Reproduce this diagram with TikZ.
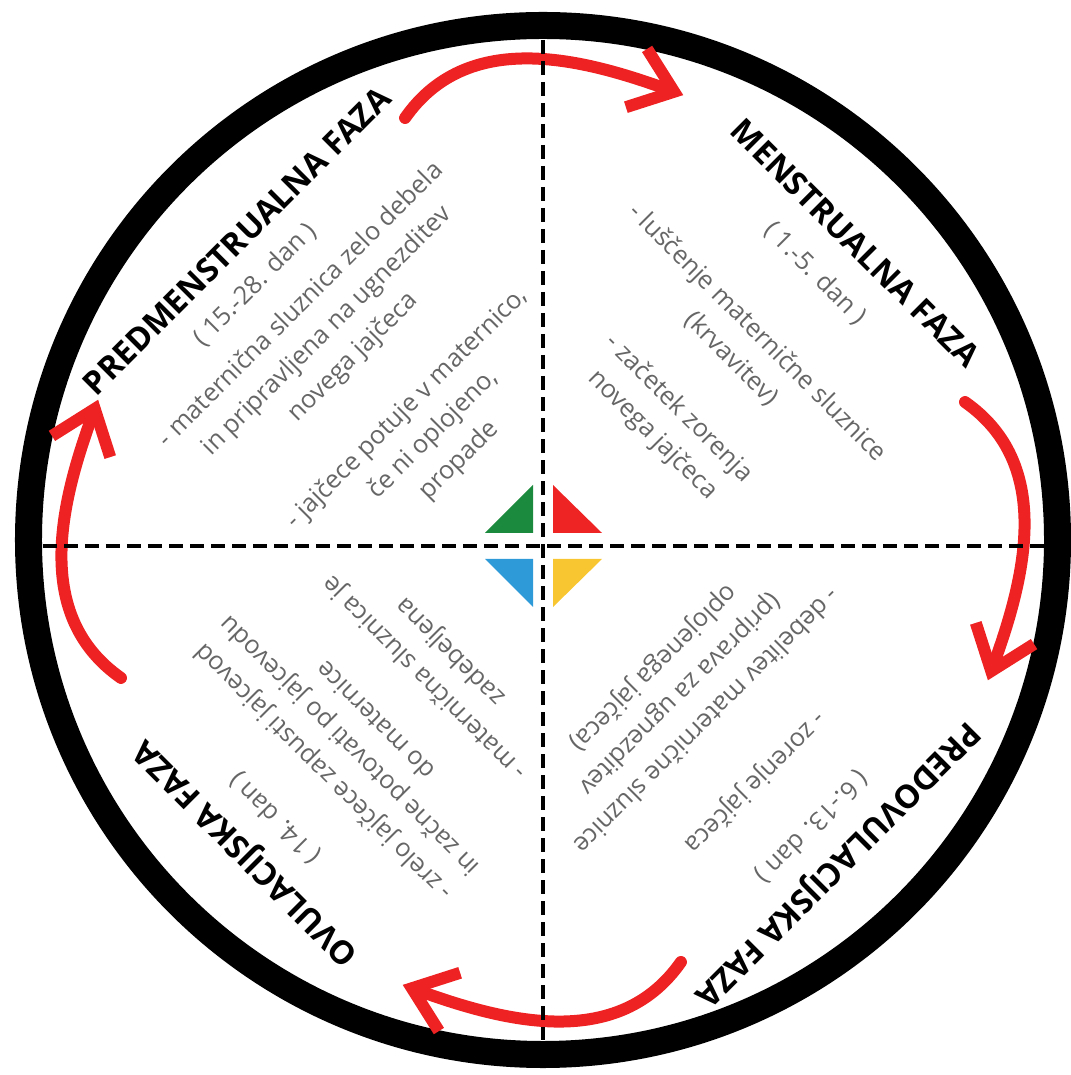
\documentclass[tikz,border=0pt]{standalone}
\usepackage{fontspec}
\setmainfont{Open Sans}
\usetikzlibrary{arrows.meta}

\definecolor{turnred}{HTML}{EE2222}
\definecolor{qgreen}{HTML}{1C8A3E}
\definecolor{qred}{HTML}{EE2424}
\definecolor{qblue}{HTML}{2E9AD8}
\definecolor{qyellow}{HTML}{F8C630}
\definecolor{notegray}{HTML}{666666}

\begin{document}
\begin{tikzpicture}

  \tikzset{phase/.style={font=\fontsize{9.2}{11}\selectfont\bfseries, inner sep=0pt},
           days/.style={font=\fontsize{7.2}{10.5}\selectfont, text=notegray, inner sep=0pt},
           note/.style={days, align=center},
           turn/.style={draw=turnred, line width=0.12cm, line cap=round,
                        -{Straight Barb[length=0.4cm,width=0.62cm]}},
           axis/.style={line width=0.04cm, dash pattern=on 0.14cm off 0.07cm}}
  \useasboundingbox (-5.43,-5.35) rectangle (5.27,5.40);

% Ring
	\draw[line width=0.27cm] (0,0) circle (5.145);

% Arrows between the phases
	\foreach \k [evaluate=\k as \o using 55-90*\k,
	             evaluate=\k as \i using 160-90*\k] in {0,...,3}{
	  \coordinate (from\k) at ({108.1-90*\k}:4.44);
	  \coordinate (to\k) at ({72.5-90*\k}:4.665);
	  \draw[turn] (from\k) to[out=\o, in=\i] (to\k);
	}

% Axes
	\coordinate (N) at (0,5.0);
	\coordinate (S) at (0,-5.0);
	\coordinate (W) at (-5.0,-0.06);
	\coordinate (E) at (5.03,-0.06);
	\draw[axis] (N) -- (S);
	\draw[axis] (W) -- (E);

% Middle
	\fill[qgreen] (-0.58,0.07) -- (-0.10,0.55) -- (-0.10,0.07) -- cycle;
	\fill[qred] (0.10,0.55) -- (0.10,0.07) -- (0.59,0.07) -- cycle;
	\fill[qblue] (-0.58,-0.19) -- (-0.10,-0.19) -- (-0.10,-0.67) -- cycle;
	\fill[qyellow] (0.10,-0.19) -- (0.59,-0.19) -- (0.10,-0.67) -- cycle;

% Predmenstrualna faza
	\begin{scope}[rotate=45, transform shape]
	  \node[phase] (pre) at (-0.05,4.28) {PREDMENSTRUALNA FAZA};
	  \node[days] (pre-d) at (-0.23,3.84) {( 15.-28. dan )};
	  \node[note] (pre-a) at (-0.05,3.00) {- maternična sluznica zelo debela\\in pripravljena na ugnezditev\\novega jajčeca};
	  \node[note] (pre-b) at (-0.03,1.52) {- jajčece potuje v maternico,\\če ni oplojeno,\\propade};
	\end{scope}

% Menstrualna faza
	\begin{scope}[rotate=-45, transform shape]
	  \node[phase] (men) at (0.11,4.31) {MENSTRUALNA FAZA};
	  \node[days] (men-d) at (0.04,3.81) {( 1.-5. dan )};
	  \node[note] (men-a) at (0.05,2.80) {- luščenje maternične sluznice\\(krvavitev)};
	  \node[note] (men-b) at (0.03,1.70) {- začetek zorenja\\novega jajčeca};
	\end{scope}

% Predovulacijska faza
	\begin{scope}[rotate=-135, transform shape]
	  \node[phase] (preov) at (0.21,4.36) {PREDOVULACIJSKA FAZA};
	  \node[days] (preov-d) at (0.13,3.93) {( 6.-13. dan )};
	  \node[note] (preov-a) at (0.21,3.21) {- zorenje jajčeca};
	  \node[note] (preov-b) at (0.12,2.05) {- debelitev maternične sluznice\\(priprava za ugnezditev\\oplojenega jajčeca)};
	\end{scope}

% Ovulacijska faza
	\begin{scope}[rotate=135, transform shape]
	  \node[phase] (ov) at (-0.11,4.30) {OVULACIJSKA FAZA};
	  \node[days] (ov-d) at (-0.07,3.86) {( 14. dan )};
	  \node[note] (ov-a) at (-0.09,2.84) {- zrelo jajčece zapusti jajcevod\\in začne potovati po jajcevodu\\do maternice};
	  \node[note] (ov-b) at (-0.14,1.62) {- maternična sluznica je\\zadebeljena};
	\end{scope}

\end{tikzpicture}
\end{document}
